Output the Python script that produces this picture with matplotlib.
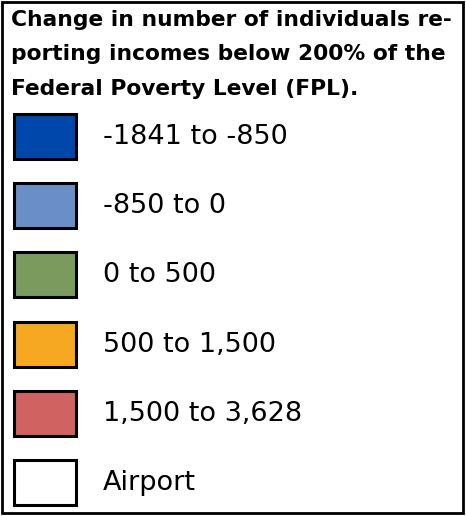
import matplotlib.pyplot as plt
from matplotlib.patches import Rectangle

# legend content
title = "Change in number of individuals re-\nporting incomes below 200% of the\nFederal Poverty Level (FPL)."
labels = ['-1841 to -850', '-850 to 0', '0 to 500', '500 to 1,500', '1,500 to 3,628', 'Airport']
colors = ['#0047ab', '#6a8fc8', '#7a9a5e', '#f7a823', '#d06262', '#ffffff']

plt.rcParams['font.family'] = ['DejaVu Sans']

fig = plt.figure(figsize=(4.66, 5.16), dpi=100)
ax = fig.add_axes([0, 0, 1, 1])
ax.set_xlim(0, 466)
ax.set_ylim(516, 0)
ax.axis('off')

# outer frame
ax.add_patch(Rectangle((2, 2), 461, 511, facecolor='white', edgecolor='black', lw=2))

ax.text(11, 10, title, fontsize=15.7, fontweight='bold', va='top', ha='left',
        linespacing=1.9)

top = 114
step = 69.2
for i, (lab, col) in enumerate(zip(labels, colors)):
    y = top + i * step
    ax.add_patch(Rectangle((14, y), 62, 45, facecolor=col, edgecolor='black', lw=2.2))
    ax.text(103, y + 23, lab, fontsize=19.5, va='center', ha='left')

fig.savefig('out.png', dpi=100)
